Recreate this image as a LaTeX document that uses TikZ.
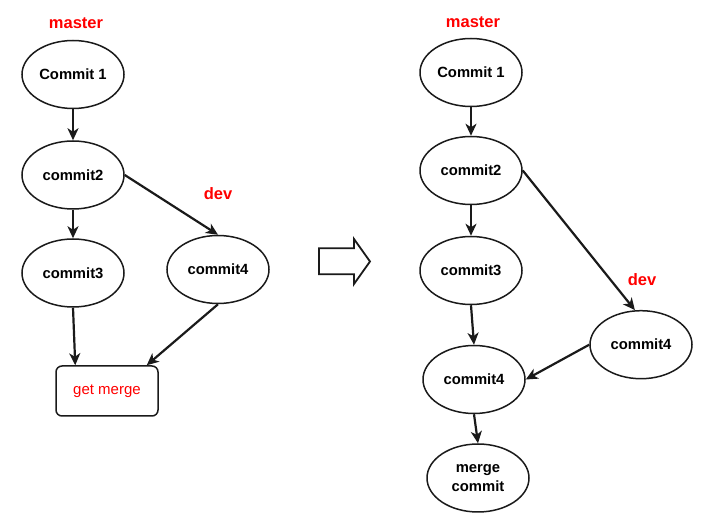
\documentclass[tikz,border=0pt]{standalone}
\usepackage{fontspec}
\setmainfont{Liberation Sans}
\usetikzlibrary{shapes.geometric,arrows.meta,calc}
\definecolor{lineclr}{HTML}{1A1A1A}
\definecolor{lblred}{HTML}{FF0000}
\begin{document}
\begin{tikzpicture}[x=1pt,y=-1pt,
  commitnode/.style={ellipse,draw=lineclr,line width=1.5pt,minimum width=102pt,minimum height=68pt,inner sep=0pt,
     font=\fontsize{14.8}{18.3}\selectfont\bfseries,align=center},
  branchlbl/.style={text=lblred,font=\fontsize{16.5}{19}\selectfont\bfseries},
  mergebox/.style={draw=lineclr,line width=1.5pt,rounded corners=6pt,minimum width=102pt,minimum height=50pt,inner sep=0pt,
     text=lblred,font=\fontsize{15}{18}\selectfont},
  link/.style={draw=lineclr,line width=2.2pt,-{Stealth[length=12pt,width=11pt,inset=3.5pt]}}]
\useasboundingbox (0,0) rectangle (713,518);
% left graph
\node[branchlbl] (lmaster) at (76,23) {master};
\node[commitnode] (lc1) at (73,74.5) {Commit 1};
\node[commitnode] (lc2) at (73,175) {commit2};
\node[commitnode] (lc3) at (73,273) {commit3};
\node[commitnode] (lc4) at (218,269.5) {commit4};
\node[branchlbl] (ldev) at (218,194) {dev};
\node[mergebox] (lgm) at (107,391) {get merge};
\draw[link] (lc1) -- (lc2);
\draw[link] (lc2.east) -- (lc4.north);
\draw[link] (lc2) -- (lc3);
\draw[link] (lc3.south) -- ($(lgm.north west)+(20pt,0)$);
\draw[link] (lc4.south) -- ($(lgm.north east)+(-12pt,0)$);
% hollow arrow
\draw[draw=lineclr,line width=1.8pt,line join=miter,fill=white]
  (319,248.3) -- (354,248.3) -- (354,239) -- (370,261.5) -- (354,284) -- (354,274.3) -- (319,274.3) -- cycle;
% right graph
\node[branchlbl] (rmaster) at (473,22) {master};
\node[commitnode] (rc1) at (471,72.5) {Commit 1};
\node[commitnode] (rc2) at (471,170.5) {commit2};
\node[commitnode] (rc3) at (471,270.5) {commit3};
\node[commitnode] (rm4) at (474,379.5) {commit4};
\node[commitnode] (rd4) at (641,344.7) {commit4};
\node[branchlbl] (rdev) at (642,280) {dev};
\node[commitnode] (rmc) at (478,478) {merge\\commit};
\draw[link] (rc1) -- (rc2);
\draw[link] (rc2) -- (rc3);
\draw[link] (rc2.east) -- (rd4.100);
\draw[link] (rc3.south) -- (rm4.north);
\draw[link] (rd4.west) -- (rm4.east);
\draw[link] (rm4.south) -- (rmc.north);
\end{tikzpicture}
\end{document}
